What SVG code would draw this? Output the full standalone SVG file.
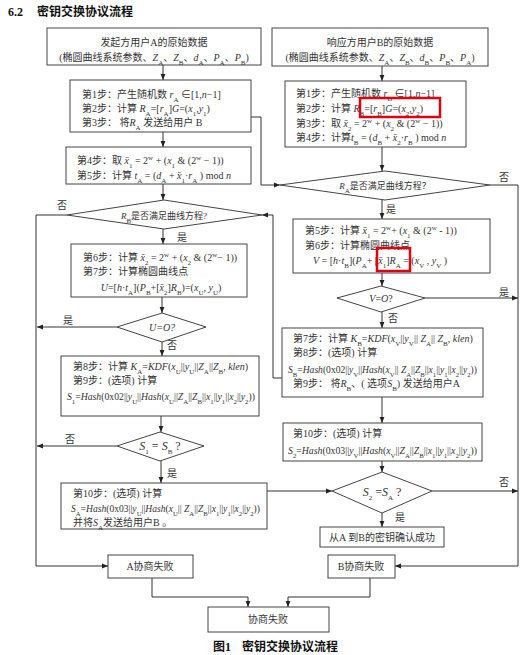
<svg xmlns="http://www.w3.org/2000/svg" width="530" height="655" viewBox="0 0 530 655">
<style>
text{font-family:"Liberation Serif","Noto Sans CJK SC",serif;font-size:10px;fill:#333}
.c{text-anchor:middle}
.i{font-style:italic}
.b{font-size:7px;baseline-shift:sub}
.p{font-size:7px;baseline-shift:super}
.box{fill:#fff;stroke:#444;stroke-width:1}
.ln{fill:none;stroke:#333;stroke-width:1}
.ar{fill:none;stroke:#333;stroke-width:1;marker-end:url(#ah)}
.hl{fill:none;stroke:#e00010;stroke-width:2.5}
.ttl{font-family:"Liberation Serif","Noto Sans CJK SC",serif;font-weight:bold;font-size:12px;fill:#111}
.lb{font-size:10px}
.big{font-size:12px}
</style>
<defs>
<marker id="ah" viewBox="0 0 10 10" refX="10" refY="5" markerWidth="6" markerHeight="6" orient="auto"><path d="M0,1 L10,5 L0,9 z" fill="#222"/></marker>
</defs>

<text class="ttl" x="8" y="16">6.2</text>
<text class="ttl" x="37" y="16">密钥交换协议流程</text>

<g id="connectors">
<path class="ar" d="M163,65 V80"/>
<path class="ar" d="M163,132 V147"/>
<path class="ar" d="M163,184 V200"/>
<path class="ar" d="M163,229 V244"/>
<path class="ar" d="M162,297 V313"/>
<path class="ar" d="M162,342 V356"/>
<path class="ar" d="M161,416 V432"/>
<path class="ar" d="M161,461 V483"/>
<path class="ar" d="M67,215 H36 V566 H108"/>
<path class="ar" d="M117,327 H37"/>
<path class="ar" d="M117,446 H37"/>
<path class="ar" d="M251,117 H261 V185 H280"/>
<path class="ar" d="M282,378 H273 V215 H262"/>
<path class="ar" d="M267,491 H332"/>
<path class="ar" d="M382,66 V81"/>
<path class="ar" d="M382,147 V171"/>
<path class="ar" d="M382,200 V219"/>
<path class="ar" d="M382,273 V286"/>
<path class="ar" d="M382,312 V328"/>
<path class="ar" d="M382,397 V423"/>
<path class="ar" d="M382,461 V472"/>
<path class="ar" d="M382,513 V527"/>
<path class="ar" d="M490,185 H518 V566 H395"/>
<path class="ar" d="M425,298 H518"/>
<path class="ar" d="M432,491 H518"/>
<path class="ar" d="M152,578 V597 H248 V607"/>
<path class="ar" d="M370,578 V597 H288 V607"/>
<text class="lb" x="57" y="209">否</text>
<text class="lb" x="177" y="241">是</text>
<text class="lb" x="63" y="324">是</text>
<text class="lb" x="167" y="349">否</text>
<text class="lb" x="65" y="443">否</text>
<text class="lb" x="167" y="477">是</text>
<text class="lb" x="499" y="181">否</text>
<text class="lb" x="386" y="213">是</text>
<text class="lb" x="499" y="296">是</text>
<text class="lb" x="388" y="322">否</text>
<text class="lb" x="499" y="486">否</text>
<text class="lb" x="395" y="521">是</text>
</g>

<g id="nodeA0">
<rect class="box" x="47" y="28" width="214" height="37"/>
<text class="c" x="154" y="46">发起方用户A的原始数据</text>
<text class="c" x="154" y="61">(椭圆曲线系统参数、<tspan class="i">Z</tspan><tspan class="b">A</tspan>、<tspan class="i">Z</tspan><tspan class="b">B</tspan>、<tspan class="i">d</tspan><tspan class="b">A</tspan>、<tspan class="i">P</tspan><tspan class="b">A</tspan>、<tspan class="i">P</tspan><tspan class="b">B</tspan>)</text>
</g>

<g id="nodeA1">
<rect class="box" x="70" y="80" width="181" height="52"/>
<text x="82" y="98">第1步：产生随机数 <tspan class="i">r</tspan><tspan class="b">A</tspan> ∈[1,<tspan class="i">n</tspan>−1]</text>
<text x="82" y="112">第2步：计算 <tspan class="i">R</tspan><tspan class="b">A</tspan>=[<tspan class="i">r</tspan><tspan class="b">A</tspan>]<tspan class="i">G</tspan>=(<tspan class="i">x</tspan><tspan class="b">1</tspan>,<tspan class="i">y</tspan><tspan class="b">1</tspan>)</text>
<text x="82" y="126">第3步： 将<tspan class="i">R</tspan><tspan class="b">A</tspan> 发送给用户 B</text>
</g>

<g id="nodeA2">
<rect class="box" x="66" y="147" width="185" height="37"/>
<text x="77" y="164">第4步：取 <tspan class="i">x̄</tspan><tspan class="b">1</tspan> = 2<tspan class="p">w</tspan> + (<tspan class="i">x</tspan><tspan class="b">1</tspan> &amp; (2<tspan class="p">w</tspan> − 1))</text>
<text x="77" y="178.5">第5步：计算 <tspan class="i">t</tspan><tspan class="b">A</tspan> = (<tspan class="i">d</tspan><tspan class="b">A</tspan> + <tspan class="i">x̄</tspan><tspan class="b">1</tspan>·<tspan class="i">r</tspan><tspan class="b">A</tspan> ) mod <tspan class="i">n</tspan></text>
</g>

<g id="nodeD1">
<polygon class="box" points="67,215 164,200 262,215 164,229"/>
<text class="c" x="164" y="218.5" style="font-size:9px"><tspan class="i">R</tspan><tspan class="b">B</tspan>是否满足曲线方程?</text>
</g>

<g id="nodeA3">
<rect class="box" x="71" y="244" width="176" height="53"/>
<text x="83" y="261">第6步：计算 <tspan class="i">x̄</tspan><tspan class="b">2</tspan> = 2<tspan class="p">w</tspan> + (<tspan class="i">x</tspan><tspan class="b">2</tspan> &amp; (2<tspan class="p">w</tspan>− 1))</text>
<text x="83" y="275">第7步：计算椭圆曲线点</text>
<text class="c" x="161" y="291"><tspan class="i">U</tspan>=[<tspan class="i">h</tspan>·<tspan class="i">t</tspan><tspan class="b">A</tspan>](<tspan class="i">P</tspan><tspan class="b">B</tspan>+[<tspan class="i">x̄</tspan><tspan class="b">2</tspan>]<tspan class="i">R</tspan><tspan class="b">B</tspan>)=(<tspan class="i">x</tspan><tspan class="b">U</tspan>, <tspan class="i">y</tspan><tspan class="b">U</tspan>)</text>
</g>

<g id="nodeDU">
<polygon class="box" points="117,327 162,313 206,327 162,342"/>
<text class="c i" x="162" y="331"><tspan class="i">U</tspan>=<tspan class="i">O</tspan>?</text>
</g>

<g id="nodeA4">
<rect class="box" x="61" y="356" width="198" height="60"/>
<text x="73" y="369.5">第8步：计算 <tspan class="i">K</tspan><tspan class="b">A</tspan>=<tspan class="i">KDF</tspan>(<tspan class="i">x</tspan><tspan class="b">U</tspan>||<tspan class="i">y</tspan><tspan class="b">U</tspan>||<tspan class="i">Z</tspan><tspan class="b">A</tspan>||<tspan class="i">Z</tspan><tspan class="b">B</tspan>, <tspan class="i">klen</tspan>)</text>
<text x="73" y="384">第9步：(选项) 计算</text>
<text x="67" y="400" textLength="188" lengthAdjust="spacingAndGlyphs"><tspan class="i">S</tspan><tspan class="b">1</tspan>=<tspan class="i">Hash</tspan>(0x02||<tspan class="i">y</tspan><tspan class="b">U</tspan>||<tspan class="i">Hash</tspan>(<tspan class="i">x</tspan><tspan class="b">U</tspan>||<tspan class="i">Z</tspan><tspan class="b">A</tspan>||<tspan class="i">Z</tspan><tspan class="b">B</tspan>||<tspan class="i">x</tspan><tspan class="b">1</tspan>||<tspan class="i">y</tspan><tspan class="b">1</tspan>||<tspan class="i">x</tspan><tspan class="b">2</tspan>||<tspan class="i">y</tspan><tspan class="b">2</tspan>))</text>
</g>

<g id="nodeDS1">
<polygon class="box" points="117,446 160,432 204,446 160,461"/>
<text class="c big" x="160" y="450"><tspan class="i">S</tspan><tspan class="b">1</tspan> = <tspan class="i">S</tspan><tspan class="b">B</tspan> ?</text>
</g>

<g id="nodeA5">
<rect class="box" x="61" y="483" width="206" height="46"/>
<text x="73" y="497">第10步：(选项) 计算</text>
<text x="71" y="512" textLength="189" lengthAdjust="spacingAndGlyphs"><tspan class="i">S</tspan><tspan class="b">A</tspan>=<tspan class="i">Hash</tspan>(0x03||<tspan class="i">y</tspan><tspan class="b">U</tspan>||<tspan class="i">Hash</tspan>(<tspan class="i">x</tspan><tspan class="b">U</tspan>|| <tspan class="i">Z</tspan><tspan class="b">A</tspan>||<tspan class="i">Z</tspan><tspan class="b">B</tspan>||<tspan class="i">x</tspan><tspan class="b">1</tspan>||<tspan class="i">y</tspan><tspan class="b">1</tspan>||<tspan class="i">x</tspan><tspan class="b">2</tspan>||<tspan class="i">y</tspan><tspan class="b">2</tspan>))</text>
<text x="73" y="526">并将<tspan class="i">S</tspan><tspan class="b">A</tspan>发送给用户B 。</text>
</g>

<g id="nodeB0">
<rect class="box" x="272" y="28" width="216" height="38"/>
<text class="c" x="380" y="46">响应方用户B的原始数据</text>
<text class="c" x="380" y="61">(椭圆曲线系统参数、<tspan class="i">Z</tspan><tspan class="b">A</tspan>、<tspan class="i">Z</tspan><tspan class="b">B</tspan>、<tspan class="i">d</tspan><tspan class="b">B</tspan>、<tspan class="i">P</tspan><tspan class="b">B</tspan>、<tspan class="i">P</tspan><tspan class="b">A</tspan>)</text>
</g>

<g id="nodeB1">
<rect class="box" x="285" y="81" width="181" height="66"/>
<text x="296" y="96.5">第1步：产生随机数 <tspan class="i">r</tspan><tspan class="b">B</tspan> ∈[1,<tspan class="i">n</tspan>−1]</text>
<text x="296" y="112">第2步：计算 <tspan class="i">R</tspan><tspan class="b">B</tspan>=[<tspan class="i">r</tspan><tspan class="b">B</tspan>]<tspan class="i">G</tspan>=(<tspan class="i">x</tspan><tspan class="b">2</tspan>,<tspan class="i">y</tspan><tspan class="b">2</tspan>)</text>
<text x="296" y="127">第3步：取 <tspan class="i">x̄</tspan><tspan class="b">2</tspan> = 2<tspan class="p">w</tspan> + (<tspan class="i">x</tspan><tspan class="b">2</tspan> &amp; (2<tspan class="p">w</tspan> − 1))</text>
<text x="296" y="141">第4步：计算<tspan class="i">t</tspan><tspan class="b">B</tspan> = (<tspan class="i">d</tspan><tspan class="b">B</tspan> + <tspan class="i">x̄</tspan><tspan class="b">2</tspan>·<tspan class="i">r</tspan><tspan class="b">B</tspan> ) mod <tspan class="i">n</tspan></text>
</g>

<g id="nodeDRA">
<polygon class="box" points="280,185 385,171 490,185 385,200"/>
<text class="c" x="385" y="189" style="font-size:9px"><tspan class="i">R</tspan><tspan class="b">A</tspan>是否满足曲线方程？</text>
</g>

<g id="nodeB2">
<rect class="box" x="293" y="219" width="197" height="54"/>
<text x="305" y="234">第5步：计算 <tspan class="i">x̄</tspan><tspan class="b">1</tspan> = 2<tspan class="p">w</tspan>+ (<tspan class="i">x</tspan><tspan class="b">1</tspan> &amp; (2<tspan class="p">w</tspan> - 1))</text>
<text x="305" y="249">第6步：计算椭圆曲线点</text>
<text x="313" y="264"><tspan class="i">V</tspan> = [<tspan class="i">h</tspan>·<tspan class="i">t</tspan><tspan class="b">B</tspan>](<tspan class="i">P</tspan><tspan class="b">A</tspan>+ [<tspan class="i">x̄</tspan><tspan class="b">1</tspan>]<tspan class="i">R</tspan><tspan class="b">A</tspan> = (<tspan class="i">x</tspan><tspan class="b">V</tspan> , <tspan class="i">y</tspan><tspan class="b">V</tspan> )</text>
</g>

<g id="nodeDV">
<polygon class="box" points="337,298 381,286 425,298 381,312"/>
<text class="c" x="381" y="301.5"><tspan class="i">V</tspan>=<tspan class="i">O</tspan>?</text>
</g>

<g id="nodeB3">
<rect class="box" x="282" y="328" width="201" height="69"/>
<text x="293" y="342">第7步：计算 <tspan class="i">K</tspan><tspan class="b">B</tspan>=<tspan class="i">KDF</tspan>(<tspan class="i">x</tspan><tspan class="b">V</tspan>||<tspan class="i">y</tspan><tspan class="b">V</tspan>|| <tspan class="i">Z</tspan><tspan class="b">A</tspan>|| <tspan class="i">Z</tspan><tspan class="b">B</tspan>, <tspan class="i">klen</tspan>)</text>
<text x="293" y="356">第8步：(选项) 计算</text>
<text x="288" y="373" textLength="189" lengthAdjust="spacingAndGlyphs"><tspan class="i">S</tspan><tspan class="b">B</tspan>=<tspan class="i">Hash</tspan>(0x02||<tspan class="i">y</tspan><tspan class="b">V</tspan>||<tspan class="i">Hash</tspan>(<tspan class="i">x</tspan><tspan class="b">V</tspan>|| <tspan class="i">Z</tspan><tspan class="b">A</tspan>||<tspan class="i">Z</tspan><tspan class="b">B</tspan>||<tspan class="i">x</tspan><tspan class="b">1</tspan>||<tspan class="i">y</tspan><tspan class="b">1</tspan>||<tspan class="i">x</tspan><tspan class="b">2</tspan>||<tspan class="i">y</tspan><tspan class="b">2</tspan>))</text>
<text x="293" y="387">第9步： 将<tspan class="i">R</tspan><tspan class="b">B</tspan>、( 选项<tspan class="i">S</tspan><tspan class="b">B</tspan>) 发送给用户A</text>
</g>

<g id="nodeB4">
<rect class="box" x="283" y="423" width="199" height="38"/>
<text x="293" y="437">第10步：(选项) 计算</text>
<text x="288" y="454" textLength="189" lengthAdjust="spacingAndGlyphs"><tspan class="i">S</tspan><tspan class="b">2</tspan>=<tspan class="i">Hash</tspan>(0x03||<tspan class="i">y</tspan><tspan class="b">V</tspan>||<tspan class="i">Hash</tspan>(<tspan class="i">x</tspan><tspan class="b">V</tspan>||<tspan class="i">Z</tspan><tspan class="b">A</tspan>||<tspan class="i">Z</tspan><tspan class="b">B</tspan>||<tspan class="i">x</tspan><tspan class="b">1</tspan>||<tspan class="i">y</tspan><tspan class="b">1</tspan>||<tspan class="i">x</tspan><tspan class="b">2</tspan>||<tspan class="i">y</tspan><tspan class="b">2</tspan>))</text>
</g>

<g id="nodeDS2">
<polygon class="box" points="332,491 382,472 432,491 382,513"/>
<text class="c big" x="382" y="496"><tspan class="i">S</tspan><tspan class="b">2</tspan> =<tspan class="i">S</tspan><tspan class="b">A</tspan> ?</text>
</g>

<g id="nodeOK">
<rect class="box" x="320" y="527" width="124" height="20"/>
<text class="c" x="382" y="541">从A 到B的密钥确认成功</text>
</g>

<g id="nodeFailA">
<rect class="box" x="108" y="555" width="85" height="23"/>
<text class="c" x="150" y="570">A协商失败</text>
</g>

<g id="nodeFailB">
<rect class="box" x="328" y="555" width="67" height="23"/>
<text class="c" x="361" y="570">B协商失败</text>
</g>

<g id="nodeFail">
<rect class="box" x="208" y="607" width="121" height="25"/>
<text class="c" x="268" y="623">协商失败</text>
</g>

<g id="highlights">
<rect class="hl" x="360" y="98" width="80" height="19"/>
<rect class="hl" x="377" y="248" width="33" height="23"/>
</g>

<text class="ttl" x="213" y="651">图1</text>
<text class="ttl" x="242" y="651">密钥交换协议流程</text>
</svg>
